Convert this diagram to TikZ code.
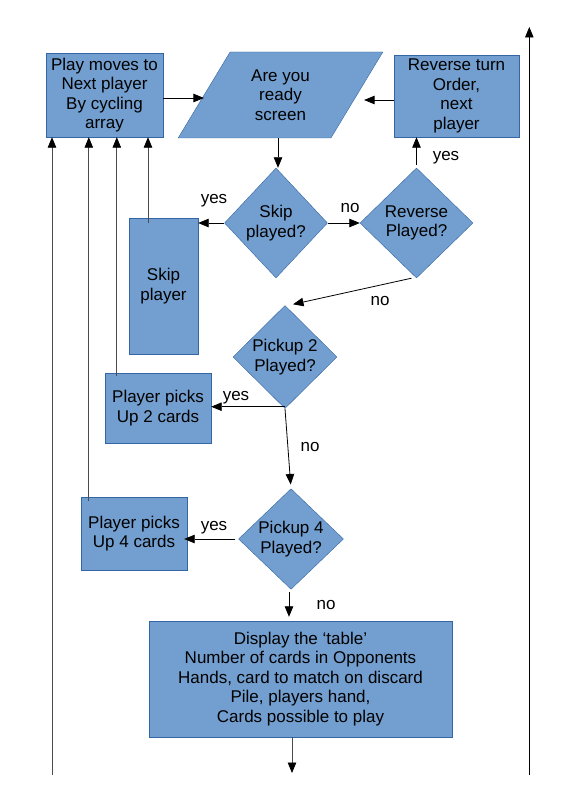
\documentclass[tikz,border=0pt]{standalone}
\usepackage{fontspec}
\setmainfont{Liberation Sans}
\usetikzlibrary{positioning,shapes.geometric,arrows.meta}

\definecolor{boxfill}{HTML}{729FCF}
\definecolor{boxline}{HTML}{3465A4}

\begin{document}
\begin{tikzpicture}[
                x=1pt,y=-1pt,
                every node/.append style={font=\fontsize{17}{19.5}\selectfont},
                box/.style={rectangle,draw=boxline,fill=boxfill,align=center,inner sep=0pt},
                decision/.style={diamond,draw=boxline,fill=boxfill,align=center,inner sep=0pt},
                inout/.style={trapezium,trapezium left angle=59.3,trapezium right angle=120.7,
                    trapezium stretches=true,draw=boxline,fill=boxfill,align=center,inner sep=0pt},
                arr/.style={-{Triangle[length=10.5pt,width=8.5pt]},line width=0.8pt},
                back/.style={-{Triangle[length=10.5pt,width=8.5pt,black]},line width=0.8pt,draw=black!70},
                lbl/.style={inner sep=0pt}
            ]
                \useasboundingbox (0,0) rectangle (567,802);
                % top row
                \node (play) [box,minimum width=117pt,minimum height=84pt] at (104.5,95)
                    {Play moves to\\Next player\\By cycling\\array};
                \node (ready) [inout,minimum width=205pt,minimum height=86pt] at (280.5,95)
                    {Are you\\ready\\screen};
                \node (rev) [box,minimum width=125pt,minimum height=82pt] at (456.5,96)
                    {Reverse turn\\Order,\\next\\player};
                % decisions
                \node (skip) [decision,minimum width=103pt,minimum height=110pt] at (276,223)
                    {Skip\\played?};
                \node (rd) [decision,minimum width=113pt,minimum height=110pt] at (416.5,223)
                    {Reverse\\Played?};
                \node (p2) [decision,minimum width=104pt,minimum height=103pt] at (285,357)
                    {Pickup 2\\Played?};
                \node (p4) [decision,minimum width=105pt,minimum height=100pt] at (291,539)
                    {Pickup 4\\Played?};
                % actions
                \node (skipbox) [box,minimum width=69pt,minimum height=136pt] at (163.5,286)
                    {Skip\\player};
                \node (p2box) [box,minimum width=106pt,minimum height=70pt] at (158,408)
                    {Player picks\\Up 2 cards};
                \node (p4box) [box,minimum width=106pt,minimum height=73pt] at (134,533.5)
                    {Player picks\\Up 4 cards};
                \node (show) [box,minimum width=303pt,minimum height=116pt] at (300.5,679)
                    {Display the ‘table’\\Number of cards in Opponents\\Hands, card to match on discard\\Pile, players hand,\\Cards possible to play};
                % loose ends
                \coordinate (out) at (292,773);
                \coordinate (inL) at (52,775);
                \coordinate (inR) at (529.3,775);
                \coordinate (topR) at (529.3,27);

                \draw[arr] ([yshift=-3pt]play.east) -- ([yshift=-3pt]play.east -| ready.west);
                \draw[arr,shorten >=7pt] ([yshift=-4pt]rev.west) -- ([yshift=-4pt]rev.west -| ready.east);
                \draw[arr] ([xshift=-2.5pt]ready.south) -- ([xshift=-2.5pt]ready.south |- skip.north);
                \draw[arr] (skip.east) -- (rd.west);
                \draw[arr,shorten <=3pt] (rd.north) -- (rd.north |- rev.south);
                \draw[arr] (skip.west) -- (skip.west -| skipbox.east);
                \draw[back] ([xshift=-15.5pt,yshift=-5pt]skipbox.north) -- ([xshift=-15.5pt]skipbox.north |- play.south);
                \draw[arr] ([xshift=-5pt]rd.south) -- ([xshift=8pt,yshift=1pt]p2.north);
                \draw[arr] ([yshift=2pt]p2.south) -- ([yshift=2pt]p2.south -| p2box.east);
                \draw[arr,shorten >=4pt] (p2.south) -- (p4.north);
                \draw[arr] ([xshift=-3pt]p4.west) -- ([xshift=-3pt]p4.west -| p4box.east);
                \draw[back] ([xshift=12pt,yshift=-3pt]p2box.north west) -- ([xshift=12pt]p2box.north west |- play.south);
                \draw[back] ([xshift=8pt,yshift=-4pt]p4box.north west) -- ([xshift=8pt]p4box.north west |- play.south);
                \draw[arr,shorten <=3pt,shorten >=4pt] ([xshift=-2pt]p4.south) -- ([xshift=-2pt]p4.south |- show.north);
                \draw[back] (show.south -| out) -- (out);
                \draw[back] (inL) -- (inL |- play.south);
                \draw[arr] (inR) -- (topR);

                % yes / no
                \node (y1) [lbl] at (214,201) {yes};
                \node (n1) [lbl] at (350,208) {no};
                \node (y2) [lbl] at (446,158) {yes};
                \node (n2) [lbl] at (380,301) {no};
                \node (y3) [lbl] at (236,398) {yes};
                \node (n3) [lbl] at (310,447) {no};
                \node (y4) [lbl] at (214,528) {yes};
                \node (n4) [lbl] at (326,605) {no};
            \end{tikzpicture}
\end{document}
